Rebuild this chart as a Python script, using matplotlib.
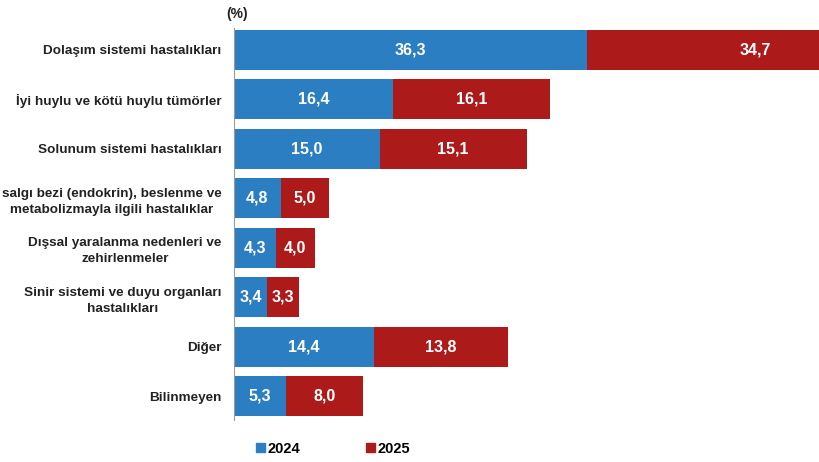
import numpy as np
import matplotlib.pyplot as plt
from matplotlib.patches import Patch

# Ölüm nedenleri, 2024 ve 2025 (%)
categories = [
    "Dolaşım sistemi hastalıkları",
    "İyi huylu ve kötü huylu tümörler",
    "Solunum sistemi hastalıkları",
    "salgı bezi (endokrin), beslenme ve\nmetabolizmayla ilgili hastalıklar",
    "Dışsal yaralanma nedenleri ve\nzehirlenmeler",
    "Sinir sistemi ve duyu organları\nhastalıkları",
    "Diğer",
    "Bilinmeyen",
]
values_2024 = [36.3, 16.4, 15.0, 4.8, 4.3, 3.4, 14.4, 5.3]
values_2025 = [34.7, 16.1, 15.1, 5.0, 4.0, 3.3, 13.8, 8.0]
series_names = ["2024", "2025"]

BLUE = "#2B7EC2"
RED = "#AD1A1A"

plt.rcParams['font.family'] = ['Liberation Sans', 'DejaVu Sans']

fig = plt.figure(figsize=(8.2, 4.62), dpi=100)
ax = fig.add_axes([234 / 820, 42 / 462, 1 - 234 / 820, 392 / 462])

y = np.arange(len(categories))
h = 0.81
ax.barh(y, values_2024, height=h, color=BLUE)
ax.barh(y, values_2025, height=h, left=values_2024, color=RED)

def fmt(v):
    return f"{v:.1f}".replace(".", ",")

for i in range(len(categories)):
    a, b = values_2024[i], values_2025[i]
    ax.text(a / 2, i, fmt(a), ha='center', va='center', color='white',
            fontsize=11.5, fontweight='bold')
    ax.text(a + b / 2, i, fmt(b), ha='center', va='center', color='white',
            fontsize=11.5, fontweight='bold')

ax.set_xlim(0, 60.3)
ax.set_ylim(7.485, -0.445)
ax.set_yticks(y)
ax.set_yticklabels(categories, fontsize=9.7, fontweight='bold', color='#222222',
                   multialignment='center', linespacing=1.45)
ax.tick_params(axis='y', length=0, pad=9)
ax.set_xticks([])
for s in ['top', 'right', 'bottom']:
    ax.spines[s].set_visible(False)
ax.spines['left'].set_color('#9a9a9a')
ax.spines['left'].set_linewidth(0.8)

fig.text(237 / 820, 1 - 14 / 462, "(%)", ha='center', va='center',
         fontsize=10, fontweight='bold', color='#222222')

handles = [Patch(color=BLUE), Patch(color=RED)]
fig.legend(handles, series_names, loc='center', bbox_to_anchor=(333 / 820, 13 / 462),
           ncol=2, frameon=False, handlelength=0.6, handleheight=0.6,
           handletextpad=0.2, columnspacing=4.5,
           prop={'size': 10.5, 'weight': 'bold'})

fig.savefig("out.png", dpi=100)
